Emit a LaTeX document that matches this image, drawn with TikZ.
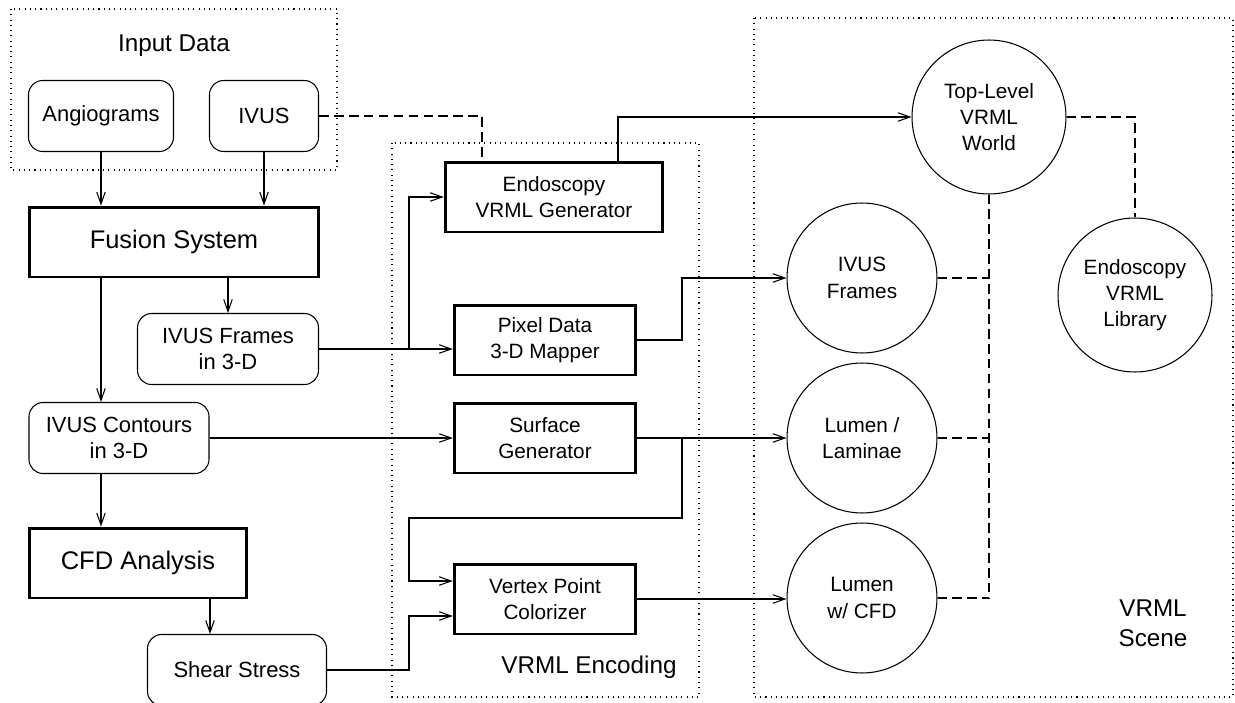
\documentclass[tikz,border=0pt]{standalone}
\usepackage{fontspec}
\setmainfont{Liberation Sans}
\usetikzlibrary{arrows.meta,calc}

\begin{document}
\begin{tikzpicture}[x=0.02cm, y=-0.02cm,
	txt/.style={font=\fontsize{12.5}{15}\selectfont, align=center},
	data/.style={txt, draw, rounded corners=8pt, line width=0.6pt, minimum height=1.42cm, inner sep=0pt},
	proc/.style={draw, line width=1.7pt, align=center, minimum height=1.4cm, inner sep=0pt,
		font=\fontsize{11.8}{15}\selectfont},
	bigproc/.style={proc, font=\fontsize{14.5}{17}\selectfont},
	vrml/.style={circle, draw, line width=0.6pt, minimum size=3cm, inner sep=0pt, align=center,
		font=\fontsize{11.8}{15}\selectfont},
	grp/.style={line width=0.6pt, dash pattern=on 0.6pt off 2.4pt},
	grplabel/.style={font=\fontsize{13.8}{17}\selectfont, align=center},
	arr/.style={line width=0.6pt, -{Straight Barb[length=2.4mm, width=1.7mm, line width=0.6pt]}},
	lnk/.style={line width=0.6pt},
	dsh/.style={line width=0.6pt, dash pattern=on 5.5pt off 3pt}]
	\useasboundingbox (0,0) rectangle (1235,703);

	% group frames
	\draw[grp] (11,9) rectangle (337,170);
	\node[grplabel] (inlabel) at (174,46) {Input Data};
	\draw[grp] (392,143) rectangle (699,697);
	\node[grplabel] (enclabel) at (589,667) {VRML Encoding};
	\draw[grp] (754,18) rectangle (1233,697);
	\node[grplabel] (scenelabel) at (1153,623) {VRML\\Scene};

	% input and fusion side
	\node[data, minimum width=2.9cm] (angio) at (101,116) {Angiograms};
	\node[data, minimum width=2.18cm] (ivus) at (264,116) {IVUS};
	\node[bigproc, minimum width=5.78cm] (fusion) at (174,242) {Fusion System};
	\node[data, minimum width=3.62cm] (frames3d) at (228,349) {IVUS Frames\\in 3-D};
	\node[data, minimum width=3.6cm] (contours) at (119,438) {IVUS Contours\\in 3-D};
	\node[bigproc, minimum width=4.35cm] (cfd) at (138,563) {CFD Analysis};
	\node[data, minimum width=3.58cm] (shear) at (237,670) {Shear Stress};

	% encoders
	\node[proc, minimum width=4.35cm] (endo) at (554,197) {Endoscopy\\VRML Generator};
	\node[proc, minimum width=3.63cm] (mapper) at (545,340) {Pixel Data\\3-D Mapper};
	\node[proc, minimum width=3.63cm] (surface) at (545,438) {Surface\\Generator};
	\node[proc, minimum width=3.63cm] (vertex) at (545,599) {Vertex Point\\Colorizer};

	% scene nodes
	\node[vrml, minimum size=3.08cm] (toplevel) at (989,117) {Top-Level\\VRML\\World};
	\node[vrml] (ivusfr) at (862,278) {IVUS\\Frames};
	\node[vrml, minimum size=3.08cm] (library) at (1135,295) {Endoscopy\\VRML\\Library};
	\node[vrml] (lumlam) at (862,438) {Lumen /\\Laminae};
	\node[vrml] (lumcfd) at (862,598) {Lumen\\w/ CFD};

	% bus lines
	\coordinate (jL) at (409,0);
	\coordinate (jR) at (682,0);
	\coordinate (loop) at (682,518);
	\coordinate (cfdout) at (210,0);

	\draw[arr] (angio.south) -- (angio.south |- fusion.north);
	\draw[arr] (ivus.south) -- (ivus.south |- fusion.north);
	\draw[arr] (frames3d.north |- fusion.south) -- (frames3d.north);
	\draw[arr] (angio.south |- fusion.south) -- (angio.south |- contours.north);
	\draw[arr] (angio.south |- contours.south) -- (angio.south |- cfd.north);
	\draw[arr] (cfdout |- cfd.south) -- (cfdout |- shear.north);

	\draw[arr] (frames3d.east) -- (jL |- frames3d.east) |- (endo.west);
	\draw[arr] (frames3d.east) -- (frames3d.east -| mapper.west);
	\draw[arr] (contours.east) -- (surface.west);
	\draw[arr] (surface.east) -- (lumlam.west);
	\draw[arr] (loop |- surface.east) -- (loop) -- (jL |- loop) |- ([yshift=0.36cm]vertex.west);
	\draw[arr] (shear.east) -- (jL |- shear.east) |- ([yshift=-0.34cm]vertex.west);
	\draw[arr] (vertex.east) -- (vertex.east -| lumcfd.west);
	\draw[arr] (mapper.east) -- (jR |- mapper.east) |- (ivusfr.west);
	\draw[arr] ($(endo.north)+(64,0)$) |- (toplevel.west);

	% dashed links
	\draw[dsh] (ivus.east) -| ($(endo.north)+(-72,0)$);
	\draw[dsh] (toplevel.east) -| (library.north);
	\draw[dsh] (toplevel.south) -- (toplevel.south |- lumcfd.east);
	\draw[dsh] (ivusfr.east) -- (toplevel.south |- ivusfr.east);
	\draw[dsh] (lumlam.east) -- (toplevel.south |- lumlam.east);
	\draw[dsh] (lumcfd.east) -- (toplevel.south |- lumcfd.east);
\end{tikzpicture}
\end{document}
